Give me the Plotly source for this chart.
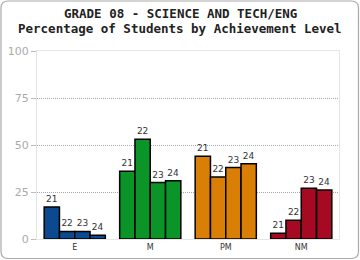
import plotly.graph_objects as go

categories = ["E", "M", "PM", "NM"]
years = ["21", "22", "23", "24"]
values = {
    "21": [17, 36, 44, 3],
    "22": [4, 53, 33, 10],
    "23": [4, 30, 38, 27],
    "24": [2, 31, 40, 26],
}
cat_colors = ["#0b4a91", "#0b9428", "#d97f06", "#a50a22"]
y_ticks = [0, 25, 50, 75, 100]
title_lines = ["GRADE 08 - SCIENCE AND TECH/ENG", "Percentage of Students by Achievement Level"]

fig = go.Figure()
for yr in years:
    fig.add_trace(go.Bar(
        x=categories, y=values[yr], name=yr,
        marker=dict(color=cat_colors, line=dict(color="#000000", width=1.5)),
        text=[yr] * len(categories), textposition="outside",
        textfont=dict(family="DejaVu Sans", size=9, color="#333333"),
        cliponaxis=False,
    ))

L, R, T, B = 37, 21, 51, 21
W, H = 360, 260
pw, ph = W - L - R, H - T - B

def px(x):
    return (x - L) / pw

def py(y):
    return (H - B - y) / ph

# rounded outer border
x0, x1, y0, y1, r = 1, 358.5, 1, 258.5, 7
path = (f"M {px(x0 + r)} {py(y0)} L {px(x1 - r)} {py(y0)} "
        f"Q {px(x1)} {py(y0)} {px(x1)} {py(y0 + r)} "
        f"L {px(x1)} {py(y1 - r)} Q {px(x1)} {py(y1)} {px(x1 - r)} {py(y1)} "
        f"L {px(x0 + r)} {py(y1)} Q {px(x0)} {py(y1)} {px(x0)} {py(y1 - r)} "
        f"L {px(x0)} {py(y0 + r)} Q {px(x0)} {py(y0)} {px(x0 + r)} {py(y0)} Z")

title_font = dict(family="DejaVu Sans Mono", size=12.5, color="#222222")
annotations = [
    dict(text="<b>" + line + "</b>", xref="paper", yref="paper",
         x=px(180), y=py(yc), xanchor="center", yanchor="middle",
         showarrow=False, font=title_font)
    for line, yc in zip(title_lines, [14, 28.5])
]

fig.update_layout(
    width=W, height=H,
    margin=dict(l=L, r=R, t=T, b=B, autoexpand=False),
    paper_bgcolor="white", plot_bgcolor="white",
    barmode="group", bargap=0.19, bargroupgap=0,
    showlegend=False,
    annotations=annotations,
    xaxis=dict(
        automargin=False,
        showgrid=False, showline=True, linecolor="#e6e6e6", linewidth=1,
        mirror=True, ticks="",
        tickfont=dict(family="DejaVu Sans", size=8, color="#333333"),
    ),
    yaxis=dict(
        automargin=False,
        range=[0, 100], tickvals=y_ticks, ticktext=[str(t) for t in y_ticks],
        showgrid=True, gridcolor="#a8a8a8", griddash="1px,1px", gridwidth=1,
        showline=True, linecolor="#e6e6e6", mirror=True,
        ticks="outside", ticklen=5, tickcolor="#bbbbbb",
        tickfont=dict(family="DejaVu Sans", size=11, color="#aaaaaa"),
        zeroline=False,
    ),
    shapes=[dict(type="path", xref="paper", yref="paper", path=path,
                 line=dict(color="#aaaaaa", width=1.2), layer="below")],
)

fig.write_html("out.html")
